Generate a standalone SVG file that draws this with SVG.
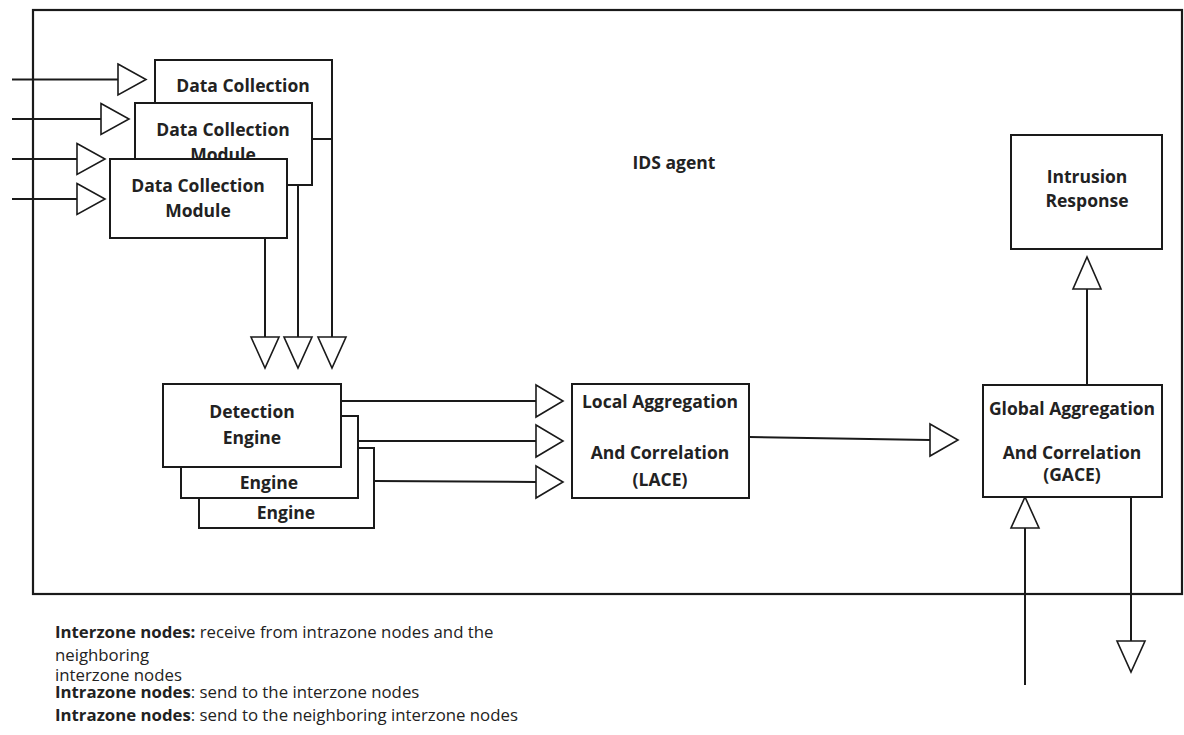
<svg xmlns="http://www.w3.org/2000/svg" width="1184" height="735" viewBox="0 0 1184 735">
<style>
.box{fill:#fff;stroke:#1a1a1a;stroke-width:2}
.frame{fill:none;stroke:#1a1a1a;stroke-width:2.2}
.ln{fill:none;stroke:#1a1a1a;stroke-width:2}
.ah{fill:#fff;stroke:#1a1a1a;stroke-width:1.6;stroke-linejoin:miter}
.t{font-family:"Open Sans","Liberation Sans",sans-serif;font-size:17.5px;font-weight:bold;fill:#222;text-anchor:middle}
.n{font-family:"Open Sans","Liberation Sans",sans-serif;font-size:16.8px;fill:#222}
.b{font-weight:bold}
</style>
<rect width="1184" height="735" fill="#fff"/>
<g id="ids-agent">
<rect class="frame" x="33" y="10" width="1149" height="584"/>
<text class="t" x="674" y="169">IDS agent</text>
</g>
<g id="connectors">
<line class="ln" x1="12" y1="79.5" x2="118" y2="79.5"/>
<polygon class="ah" points="118,64 146,79.5 118,95"/>
<line class="ln" x1="12" y1="119" x2="101" y2="119"/>
<polygon class="ah" points="101,103.5 129,119 101,134.5"/>
<line class="ln" x1="12" y1="159" x2="77" y2="159"/>
<polygon class="ah" points="77,143.5 105,159 77,174.5"/>
<line class="ln" x1="12" y1="199" x2="77" y2="199"/>
<polygon class="ah" points="77,183.5 105,199 77,214.5"/>
<line class="ln" x1="332" y1="139" x2="332" y2="337"/>
<polygon class="ah" points="318,337 346,337 332,368"/>
<line class="ln" x1="298" y1="185" x2="298" y2="337"/>
<polygon class="ah" points="284,337 312,337 298,368"/>
<line class="ln" x1="265" y1="238" x2="265" y2="337"/>
<polygon class="ah" points="251,337 279,337 265,368"/>
<line class="ln" x1="341" y1="401" x2="536" y2="401"/>
<polygon class="ah" points="536,385 563,401 536,417"/>
<line class="ln" x1="358" y1="441" x2="536" y2="441"/>
<polygon class="ah" points="536,425 563,441 536,457"/>
<line class="ln" x1="374" y1="481" x2="536" y2="482"/>
<polygon class="ah" points="536,466 563,482 536,498"/>
<line class="ln" x1="749" y1="437" x2="930" y2="440"/>
<polygon class="ah" points="930,424 958,440 930,456"/>
<line class="ln" x1="1087" y1="289" x2="1087" y2="385"/>
<polygon class="ah" points="1073,289 1101,289 1087,257"/>
<line class="ln" x1="1025" y1="528" x2="1025" y2="685"/>
<polygon class="ah" points="1011,528 1039,528 1025,497"/>
<line class="ln" x1="1131" y1="497" x2="1131" y2="641"/>
<polygon class="ah" points="1117,641 1145,641 1131,672"/>
</g>
<g id="data-collection-1">
<rect class="box" x="155" y="60" width="177" height="79"/>
<text class="t" x="243" y="92">Data Collection</text>
</g>
<g id="data-collection-2">
<rect class="box" x="135" y="103" width="177" height="82"/>
<text class="t" x="223" y="136">Data Collection</text>
<text class="t" x="223" y="161">Module</text>
</g>
<g id="data-collection-3">
<rect class="box" x="110" y="159" width="177" height="79"/>
<text class="t" x="198" y="192">Data Collection</text>
<text class="t" x="198" y="217">Module</text>
</g>
<g id="detection-engine-3">
<rect class="box" x="199" y="448" width="175" height="80"/>
<text class="t" x="286" y="519">Engine</text>
</g>
<g id="detection-engine-2">
<rect class="box" x="181" y="416" width="177" height="82"/>
<text class="t" x="269" y="489">Engine</text>
</g>
<g id="detection-engine-1">
<rect class="box" x="163" y="384" width="178" height="83"/>
<text class="t" x="252" y="418">Detection</text>
<text class="t" x="252" y="444">Engine</text>
</g>
<g id="lace">
<rect class="box" x="572" y="384" width="177" height="114"/>
<text class="t" x="660" y="408">Local Aggregation</text>
<text class="t" x="660" y="459">And Correlation</text>
<text class="t" x="660" y="486">(LACE)</text>
</g>
<g id="gace">
<rect class="box" x="983" y="385" width="179" height="112"/>
<text class="t" x="1072" y="415">Global Aggregation</text>
<text class="t" x="1072" y="459">And Correlation</text>
<text class="t" x="1072" y="481">(GACE)</text>
</g>
<g id="intrusion-response">
<rect class="box" x="1011" y="135" width="151" height="114"/>
<text class="t" x="1087" y="183">Intrusion</text>
<text class="t" x="1087" y="207">Response</text>
</g>
<g id="legend">
<text class="n" x="55" y="638"><tspan class="b">Interzone nodes:</tspan> receive from intrazone nodes and the</text>
<text class="n" x="55" y="661">neighboring</text>
<text class="n" x="55" y="681">interzone nodes</text>
<text class="n" x="55" y="698"><tspan class="b">Intrazone nodes</tspan>: send to the interzone nodes</text>
<text class="n" x="55" y="721"><tspan class="b">Intrazone nodes</tspan>: send to the neighboring interzone nodes</text>
</g>
</svg>
